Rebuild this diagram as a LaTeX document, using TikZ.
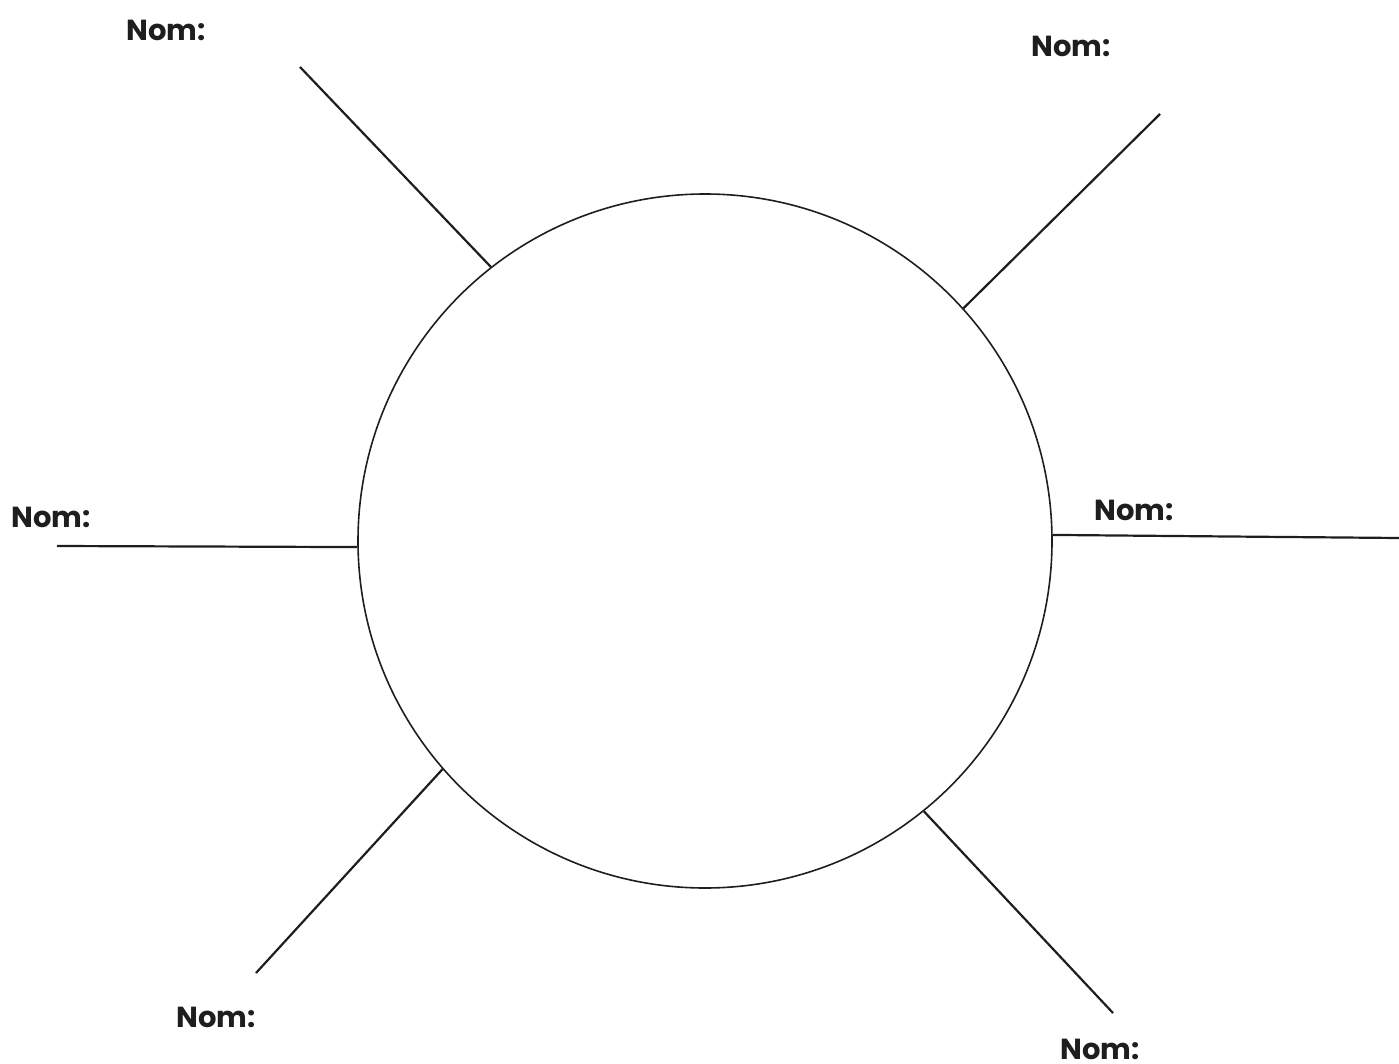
\documentclass[tikz,border=0pt]{standalone}
\usepackage{fontspec}
\setmainfont{Poppins}
\usepackage{tikz}
\usetikzlibrary{positioning}
\definecolor{inkblack}{RGB}{30,30,30}
\tikzset{
  ring/.style={draw=inkblack,line width=1.6pt,circle,minimum size=694pt,
    inner sep=0pt},
  spoke/.style={draw=inkblack,line width=2.2pt},
  namelab/.style={font=\fontsize{29}{34}\selectfont\bfseries,text=inkblack,
    inner sep=0pt,anchor=center}
}
\begin{document}
\begin{tikzpicture}[x=1pt,y=-1pt]
  \useasboundingbox (0,0) rectangle (1399,1064);
  \node[ring] (ring) at (705,541) {};

  % free ends of the spokes
  \coordinate (tlend) at (300,67);
  \coordinate (trend) at (1160,114);
  \coordinate (lend) at (57,546);
  \coordinate (rend) at (1399,538);
  \coordinate (blend) at (256,973);
  \coordinate (brend) at (1113,1013);

  \draw[spoke] (ring.128) -- (tlend);
  \draw[spoke] (ring.42.7) -- (trend);
  \draw[spoke] (ring.181) -- (lend);
  \draw[spoke] (ring.1) -- (rend);
  \draw[spoke] (ring.221.4) -- (blend);
  \draw[spoke] (ring.-51.5) -- (brend);

  \node[namelab] (tllab) at (166,30) {Nom:};
  \node[namelab] (trlab) at (1071,46) {Nom:};
  \node[namelab] (llab) at (51,517) {Nom:};
  \node[namelab] (rlab) at (1134,510) {Nom:};
  \node[namelab] (bllab) at (216,1017) {Nom:};
  \node[namelab] (brlab) at (1100,1049) {Nom:};
\end{tikzpicture}
\end{document}
